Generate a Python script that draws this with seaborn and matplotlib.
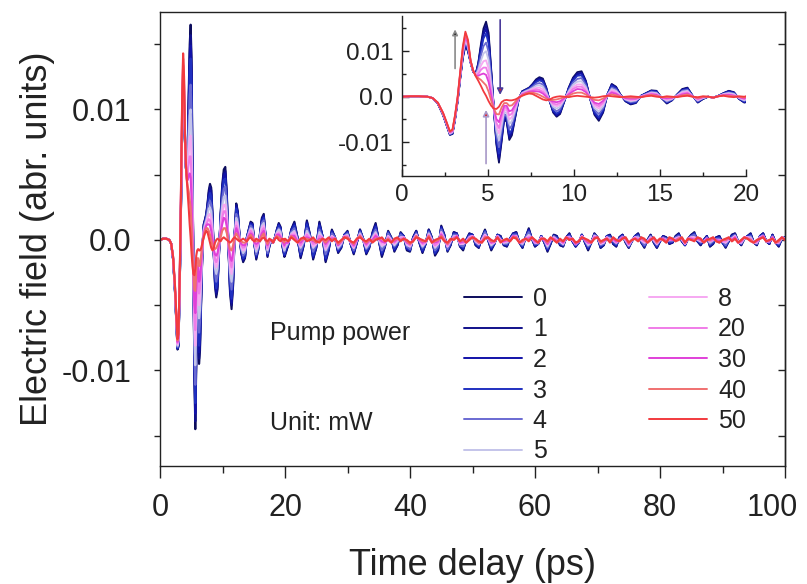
import numpy as np
import pandas as pd
import matplotlib
matplotlib.use("Agg")
import matplotlib.pyplot as plt
from matplotlib.lines import Line2D
from matplotlib.transforms import ScaledTranslation
from matplotlib.ticker import MultipleLocator, FixedLocator, FixedFormatter, NullFormatter
import seaborn as sns

# ---------------- data (field values in units of 1e-4 abr. units) ----------------
powers = ["0", "1", "2", "3", "4", "5", "8", "20", "30", "40", "50"]
colors = ["#0c0c5c", "#10108a", "#1212a8", "#2030c0", "#6a6ad2", "#c4c4ea",
          "#f6a8f2", "#f07ce8", "#e040d8", "#f07070", "#f23a3e"]
x_ticks = [0, 20, 40, 60, 80, 100]
x_ticklabels = ["0", "20", "40", "60", "80", "100"]

early_time_ps = [0, 0.5, 1.0, 1.5, 1.8, 2.1, 2.4, 2.6, 2.8, 2.95,
                 3.1, 3.25, 3.4, 3.55, 3.7, 3.85, 4.0, 4.15, 4.3, 4.45,
                 4.6, 4.75, 4.9, 5.05, 5.2, 5.35, 5.5, 5.65, 5.8, 5.95,
                 6.1, 6.25, 6.4, 6.6, 6.8, 7.0, 7.2, 7.4, 7.6, 7.8,
                 8.0, 8.2, 8.4, 8.6, 8.8, 9.0, 9.2, 9.45, 9.7, 9.95,
                 10.2, 10.45, 10.7, 10.95, 11.2, 11.45, 11.7, 11.95, 12.2, 12.45,
                 12.7, 13.0, 13.3, 13.6, 13.9, 14.2, 14.5, 14.8, 15.1, 15.4,
                 15.7, 16.0, 16.3, 16.6, 16.9, 17.2, 17.5, 17.8, 18.1, 18.4,
                 18.7, 19.0, 19.3, 19.6, 19.9]
late_start_ps = 20.0
late_step_ps = 0.5

early_0 = [0, 1, 1, 0, -3, -15, -40, -62, -84, -82,
           -50, -10, 40, 85, 112, 100, 75, 55, 50, 75,
           115, 150, 165, 140, 60, -25, -105, -145, -100, -50,
           -55, -95, -85, -45, -5, 12, 16, 20, 28, 38,
           43, 40, 20, -10, -35, -44, -38, -10, 20, 42,
           54, 56, 35, -5, -40, -53, -35, 5, 28, 22,
           5, -10, -17, -14, 2, 8, 14, 13, -3, -15,
           -8, 5, 17, 20, 2, -13, -5, 0, -2, 2,
           8, 13, 10, -5, -13]
late_0 = [-12, -4, 8, 14, 2, -14, -4, 15, 4, -15,
          -6, 14, 3, -17, -8, 8, 2, -10, -6, 4,
          7, -3, -11, -2, 8, 1, -11, -6, 6, 13,
          0, -13, -5, 7, 2, -9, -4, 6, 3, -8,
          -9, 2, 7, -2, -10, -3, 8, 2, -12, -8,
          11, 4, -9, -4, 6, 5, -5, -8, 0, 5,
          4, -4, -6, 2, 8, 0, -8, -3, 4, 3,
          -4, -5, 1, 5, 6, -2, -6, 2, 9, 1,
          -5, -3, 3, -2, -9, -3, 4, 3, -4, -5,
          2, 5, -1, -5, -2, 4, -2, -8, -2, 5,
          2, -6, -4, 3, 4, -3, -5, 2, 4, -2,
          -6, -1, 3, 5, -2, -6, 0, 4, -2, -6,
          -1, 3, 2, -3, -2, 3, 5, -1, -4, 1,
          4, 6, -1, -4, 0, 3, -5, -3, 2, 3,
          -2, -6, -1, 4, 5, -1, -4, 1, 3, 5,
          -2, -4, 3, 5, -1, -3, 4, -2, -5, 1,
          2]

early_1 = [0, 1, 1, 0, -3, -15, -40, -61, -83, -81,
           -49, -10, 41, 86, 114, 101, 75, 55, 50, 73,
           110, 143, 157, 132, 56, -25, -101, -139, -96, -48,
           -53, -91, -81, -43, -5, 12, 15, 19, 27, 36,
           41, 38, 19, -10, -33, -42, -36, -10, 19, 40,
           51, 53, 33, -5, -38, -50, -33, 5, 27, 21,
           5, -10, -16, -13, 2, 8, 13, 12, -3, -14,
           -8, 5, 16, 19, 2, -12, -5, 0, -2, 2,
           8, 12, 9, -5, -12]
late_1 = [-11, -4, 8, 13, 2, -13, -4, 14, 4, -14,
          -6, 13, 3, -16, -7, 7, 2, -9, -6, 4,
          6, -3, -10, -2, 8, 1, -10, -5, 5, 12,
          0, -12, -5, 6, 2, -8, -4, 5, 3, -7,
          -8, 2, 7, -2, -9, -3, 8, 2, -11, -7,
          10, 4, -8, -4, 6, 5, -5, -7, 0, 5,
          4, -4, -6, 2, 7, 0, -7, -3, 4, 3,
          -4, -5, 1, 5, 6, -2, -6, 2, 8, 1,
          -5, -3, 3, -2, -8, -3, 4, 3, -4, -5,
          2, 5, -1, -5, -2, 4, -2, -7, -2, 5,
          2, -6, -4, 3, 4, -3, -5, 2, 4, -2,
          -6, -1, 3, 5, -2, -5, 0, 4, -2, -6,
          -1, 3, 2, -3, -2, 3, 5, -1, -4, 1,
          4, 5, -1, -4, 0, 3, -5, -3, 2, 3,
          -2, -5, -1, 4, 5, -1, -4, 1, 3, 5,
          -2, -4, 3, 5, -1, -3, 4, -2, -5, 1,
          2]

early_2 = [0, 1, 1, 0, -3, -15, -39, -61, -83, -81,
           -49, -9, 42, 88, 115, 103, 76, 55, 50, 71,
           106, 136, 149, 125, 52, -25, -97, -133, -91, -46,
           -50, -86, -77, -41, -5, 11, 15, 19, 26, 34,
           38, 35, 17, -10, -32, -40, -34, -9, 18, 38,
           49, 51, 32, -5, -36, -48, -31, 5, 25, 20,
           4, -9, -15, -13, 2, 7, 13, 12, -3, -13,
           -7, 4, 15, 18, 2, -12, -4, 0, -2, 2,
           7, 12, 9, -4, -12]
late_2 = [-10, -4, 7, 12, 1, -12, -3, 13, 3, -13,
          -5, 12, 3, -15, -7, 7, 2, -9, -5, 4,
          6, -3, -10, -2, 7, 1, -10, -5, 5, 11,
          0, -11, -4, 6, 1, -8, -3, 5, 3, -7,
          -8, 2, 6, -2, -9, -3, 7, 1, -10, -7,
          10, 3, -8, -3, 5, 5, -4, -7, 0, 4,
          4, -3, -5, 1, 7, 0, -7, -3, 4, 2,
          -3, -4, 1, 5, 5, -2, -5, 2, 8, 1,
          -4, -3, 3, -2, -8, -2, 3, 2, -3, -4,
          2, 4, -1, -5, -2, 4, -2, -7, -2, 4,
          2, -5, -3, 3, 3, -2, -4, 2, 4, -1,
          -5, -1, 3, 4, -1, -5, 0, 3, -1, -5,
          -1, 3, 1, -2, -2, 2, 4, -1, -4, 1,
          3, 5, -1, -3, 0, 3, -4, -2, 2, 2,
          -2, -5, -1, 3, 4, -1, -3, 1, 3, 4,
          -2, -3, 3, 5, -1, -3, 4, -2, -4, 1,
          2]

early_3 = [0, 1, 1, 0, -3, -15, -39, -61, -83, -80,
           -48, -8, 42, 89, 117, 104, 76, 55, 49, 69,
           100, 128, 139, 116, 47, -25, -93, -125, -86, -43,
           -47, -81, -73, -39, -5, 10, 14, 18, 24, 32,
           36, 33, 16, -9, -30, -37, -32, -8, 17, 35,
           46, 47, 29, -4, -34, -45, -29, 5, 24, 18,
           4, -8, -14, -12, 2, 7, 12, 11, -3, -12,
           -7, 4, 14, 17, 2, -11, -4, 0, -2, 2,
           7, 11, 8, -4, -11]
late_3 = [-9, -3, 7, 11, 1, -11, -3, 12, 3, -12,
          -5, 11, 3, -14, -6, 6, 2, -8, -5, 4,
          6, -3, -9, -1, 7, 1, -9, -5, 4, 10,
          0, -10, -4, 6, 1, -7, -3, 5, 3, -6,
          -8, 1, 6, -1, -8, -3, 7, 1, -10, -6,
          9, 3, -8, -3, 5, 4, -4, -6, 0, 4,
          4, -3, -5, 1, 7, 0, -6, -3, 4, 2,
          -3, -4, 1, 4, 5, -2, -5, 2, 7, 1,
          -4, -3, 3, -1, -7, -2, 3, 2, -3, -4,
          2, 4, -1, -4, -2, 4, -1, -6, -2, 4,
          2, -5, -3, 3, 3, -2, -4, 1, 3, -1,
          -5, -1, 3, 4, -1, -5, 0, 3, -1, -5,
          -1, 2, 1, -2, -1, 2, 4, 0, -4, 1,
          3, 5, 0, -3, 0, 2, -4, -2, 1, 2,
          -2, -5, 0, 3, 4, -1, -3, 1, 3, 4,
          -2, -3, 3, 4, -1, -2, 3, -2, -4, 1,
          2]

early_4 = [0, 1, 1, 0, -3, -14, -39, -60, -82, -79,
           -47, -7, 44, 92, 121, 107, 76, 56, 49, 64,
           90, 111, 119, 98, 38, -25, -83, -111, -75, -38,
           -42, -71, -63, -34, -4, 9, 13, 16, 22, 28,
           30, 27, 12, -9, -26, -32, -27, -7, 14, 31,
           39, 41, 25, -4, -29, -38, -25, 4, 20, 16,
           3, -7, -12, -10, 1, 6, 11, 9, -2, -11,
           -6, 3, 13, 15, 1, -10, -3, 0, -2, 2,
           6, 9, 7, -3, -9]
late_4 = [-7, -3, 6, 9, 1, -9, -2, 9, 3, -9,
          -4, 8, 2, -11, -4, 5, 2, -7, -4, 3,
          5, -2, -8, -1, 6, 1, -7, -4, 3, 8,
          0, -8, -4, 5, 1, -5, -2, 4, 2, -5,
          -7, 1, 5, -1, -6, -2, 6, 1, -8, -5,
          8, 2, -7, -2, 4, 4, -4, -5, -1, 3,
          3, -2, -4, 1, 6, 1, -5, -2, 3, 1,
          -3, -3, 0, 4, 4, -2, -4, 2, 6, 1,
          -3, -3, 2, -1, -6, -1, 3, 1, -2, -4,
          2, 3, 0, -4, -2, 3, -1, -5, -2, 4,
          2, -4, -3, 2, 2, -1, -3, 1, 3, -1,
          -5, -1, 2, 3, -1, -4, -1, 3, -1, -4,
          0, 2, 1, -1, -1, 2, 3, 0, -3, 1,
          3, 4, 0, -2, -1, 2, -3, -1, 1, 1,
          -1, -4, 0, 2, 4, -1, -3, 1, 2, 3,
          -2, -3, 2, 4, -1, -2, 3, -2, -3, 1,
          1]

early_5 = [0, 1, 1, 0, -3, -14, -38, -59, -81, -78,
           -46, -6, 46, 95, 124, 110, 77, 56, 48, 59,
           79, 95, 100, 80, 28, -25, -74, -96, -65, -33,
           -36, -60, -54, -29, -4, 8, 12, 15, 19, 24,
           25, 22, 9, -8, -22, -26, -22, -6, 12, 26,
           33, 34, 21, -3, -25, -32, -21, 4, 17, 13,
           3, -6, -10, -8, 1, 5, 9, 8, -2, -9,
           -5, 3, 11, 13, 1, -8, -3, 0, -2, 1,
           6, 8, 6, -3, -8]
late_5 = [-6, -2, 5, 7, 0, -6, -1, 7, 2, -6,
          -3, 6, 2, -8, -3, 3, 1, -6, -3, 3,
          4, -2, -6, 0, 5, 0, -6, -2, 2, 6,
          0, -5, -3, 3, 0, -4, -1, 2, 2, -4,
          -5, 0, 4, 0, -5, -2, 5, 0, -6, -3,
          6, 1, -5, -1, 3, 3, -3, -3, -1, 2,
          3, -1, -3, 0, 4, 1, -4, -2, 3, 0,
          -2, -2, 0, 3, 3, -2, -3, 1, 4, 1,
          -2, -2, 2, 0, -5, 0, 2, 0, -1, -3,
          2, 2, 0, -3, -1, 3, 0, -4, -2, 3,
          2, -3, -2, 2, 1, 0, -2, 0, 2, 0,
          -4, 0, 2, 2, 0, -2, -1, 2, 0, -3,
          0, 1, 0, 0, 0, 1, 2, 0, -3, 1,
          2, 2, 0, -1, -1, 1, -2, 0, 0, 0,
          -1, -2, 0, 1, 3, -1, -2, 1, 2, 2,
          -2, -2, 2, 3, -1, -1, 2, -2, -2, 1,
          1]

early_8 = [0, 1, 1, 0, -3, -14, -37, -58, -80, -77,
           -45, -5, 48, 98, 128, 113, 78, 57, 47, 54,
           68, 78, 80, 62, 18, -26, -64, -81, -54, -28,
           -30, -50, -45, -25, -3, 7, 10, 13, 17, 19,
           20, 16, 5, -8, -18, -21, -18, -5, 9, 21,
           27, 27, 17, -3, -20, -26, -16, 3, 14, 11,
           2, -5, -8, -7, 0, 4, 8, 6, -2, -7,
           -4, 2, 9, 11, 1, -7, -2, 0, -2, 1,
           5, 6, 4, -2, -6]
late_8 = [-4, -2, 4, 6, 0, -5, 0, 5, 2, -5,
          -3, 4, 2, -7, -2, 3, 1, -5, -2, 3,
          3, -2, -6, 0, 4, 0, -5, -2, 1, 5,
          1, -4, -3, 3, 0, -3, 0, 2, 2, -3,
          -5, 0, 4, 0, -4, -2, 4, 0, -5, -3,
          6, 1, -5, -1, 2, 3, -3, -3, -1, 2,
          3, -1, -3, 0, 4, 1, -3, -2, 3, 0,
          -2, -1, 0, 3, 3, -2, -2, 1, 3, 2,
          -2, -2, 2, 0, -4, 0, 2, 0, -1, -3,
          2, 2, 0, -3, -1, 3, 0, -3, -2, 3,
          2, -3, -2, 2, 0, 0, -2, 0, 2, 0,
          -4, 0, 2, 1, 0, -2, -1, 2, 0, -3,
          0, 1, 0, 0, 0, 1, 2, 1, -3, 1,
          2, 2, 1, -1, -1, 1, -1, 0, 0, 0,
          -1, -2, 1, 1, 3, -2, -2, 2, 2, 1,
          -2, -2, 2, 3, -1, -1, 2, -2, -2, 2,
          1]

early_20 = [0, 1, 1, 0, -3, -14, -37, -58, -79, -76,
            -44, -4, 49, 100, 131, 115, 78, 57, 47, 50,
            59, 64, 64, 47, 10, -26, -57, -69, -45, -24,
            -25, -41, -37, -21, -3, 6, 9, 12, 14, 16,
            15, 11, 3, -8, -15, -17, -14, -4, 7, 17,
            22, 22, 13, -3, -16, -21, -13, 3, 11, 8,
            1, -4, -6, -5, 0, 4, 7, 5, -2, -5,
            -3, 1, 7, 9, 1, -6, -1, 0, -2, 1,
            4, 5, 3, -1, -5]
late_20 = [-3, -2, 4, 4, -1, -4, 0, 4, 1, -3,
           -2, 3, 2, -5, -1, 2, 1, -4, -2, 3,
           3, -2, -5, 0, 4, 0, -4, -1, 0, 4,
           1, -2, -2, 2, -1, -2, 0, 1, 2, -2,
           -4, 0, 3, 0, -3, -2, 4, -1, -4, -2,
           5, 0, -4, 0, 2, 3, -2, -2, -1, 2,
           3, 0, -2, -1, 3, 1, -2, -2, 3, 0,
           -1, -1, 0, 3, 3, -2, -2, 1, 2, 2,
           -2, -2, 2, 0, -3, 0, 1, 0, 0, -2,
           2, 2, 0, -3, -1, 3, 0, -2, -2, 2,
           2, -2, -1, 2, 0, 0, -2, 0, 2, 1,
           -3, 0, 2, 1, 1, -1, -1, 1, 1, -2,
           0, 1, -1, 0, 0, 0, 2, 1, -3, 1,
           1, 1, 1, 0, -1, 1, -1, 0, 0, 0,
           -1, -1, 1, 0, 2, -2, -1, 2, 2, 1,
           -2, -1, 2, 3, -1, -1, 2, -2, -2, 2,
           1]

early_30 = [0, 1, 1, 0, -3, -14, -36, -57, -78, -75,
            -43, -3, 51, 103, 134, 118, 79, 57, 46, 46,
            49, 51, 48, 32, 2, -26, -49, -56, -37, -20,
            -20, -32, -30, -17, -3, 5, 8, 11, 12, 12,
            11, 7, 0, -7, -11, -12, -10, -3, 5, 12,
            17, 16, 10, -2, -13, -16, -9, 3, 9, 6,
            1, -3, -4, -4, 0, 3, 5, 4, -2, -3,
            -2, 1, 5, 7, 1, -4, -1, 0, -2, 1,
            4, 4, 2, -1, -4]
late_30 = [-2, -2, 3, 3, -1, -2, 1, 2, 1, -1,
           -2, 1, 1, -3, 0, 1, 1, -4, -1, 2,
           2, -1, -4, 0, 3, 0, -3, 0, 0, 3,
           1, -1, -2, 1, -1, -1, 1, 0, 1, -2,
           -3, 0, 3, 0, -2, -1, 3, -1, -2, -1,
           4, 0, -3, 0, 1, 3, -2, -1, -2, 1,
           2, 0, -2, -1, 2, 2, -2, -1, 2, -1,
           -1, 0, -1, 3, 2, -2, -1, 1, 1, 2,
           -1, -2, 1, 0, -3, 1, 1, -1, 0, -2,
           2, 1, 1, -3, -1, 2, 0, -2, -2, 2,
           2, -2, -1, 1, -1, 1, -1, 0, 2, 1,
           -3, 0, 1, 0, 1, 0, -2, 1, 1, -2,
           1, 1, -1, 1, 0, 0, 1, 1, -2, 1,
           1, 0, 1, 0, -2, 1, 0, 1, 0, -1,
           0, 0, 1, 0, 2, -2, -1, 2, 1, 0,
           -2, -1, 1, 3, -1, -1, 2, -2, -1, 2,
           0]

early_40 = [0, 1, 1, 0, -3, -13, -36, -56, -77, -73,
            -41, -1, 53, 107, 139, 122, 79, 58, 46, 41,
            37, 31, 25, 11, -9, -26, -38, -39, -24, -14,
            -14, -20, -19, -11, -2, 3, 7, 9, 9, 7,
            4, 0, -4, -7, -7, -6, -4, -1, 2, 7,
            9, 9, 5, -2, -7, -8, -4, 2, 5, 3,
            0, -1, -2, -2, -1, 2, 4, 2, -1, -1,
            -1, 0, 3, 5, 0, -3, 0, 0, -2, 1,
            3, 2, 1, 0, -2]
late_40 = [0, -1, 3, 1, -2, 0, 1, 1, 0, 0,
           -2, 0, 1, -2, 1, 0, 1, -3, -1, 2,
           2, -1, -3, 1, 3, 0, -2, 0, -1, 1,
           1, 1, -1, 1, -2, 0, 1, 0, 1, -1,
           -3, -1, 3, 1, -1, -1, 3, -2, -1, 0,
           3, 0, -3, 0, 1, 2, -1, 0, -2, 1,
           2, 0, -2, -2, 2, 2, -1, -1, 2, -1,
           0, 0, -1, 2, 2, -2, -1, 1, 0, 2,
           0, -2, 1, 1, -2, 2, 0, -2, 0, -1,
           2, 0, 1, -2, -1, 2, 1, -1, -2, 1,
           2, -2, 0, 1, -1, 2, 0, -1, 1, 2,
           -2, 0, 1, -1, 2, 0, -2, 0, 2, -2,
           1, 0, -2, 2, 1, -1, 1, 2, -2, 1,
           0, 0, 2, 1, -2, 0, 0, 2, -1, -2,
           0, 0, 2, -1, 1, -2, 0, 2, 1, 0,
           -2, 0, 1, 2, -1, 0, 1, -2, -1, 2,
           0]

early_50 = [0, 1, 1, 0, -3, -13, -35, -55, -76, -72,
            -40, 0, 55, 110, 143, 125, 80, 58, 45, 35,
            24, 12, 2, -10, -20, -26, -27, -22, -12, -8,
            -7, -8, -8, -6, -2, 2, 5, 7, 6, 2,
            -2, -6, -8, -6, -2, 0, 1, 0, -1, 1,
            2, 1, 0, -1, -2, -1, 1, 2, 1, 0,
            -1, 0, 1, 0, -1, 1, 2, 0, -1, 1,
            0, -1, 1, 2, 0, -1, 1, 0, -2, 1,
            2, 0, -1, 1, 0]
late_50 = [1, -1, 2, 0, -2, 1, 2, -1, 0, 2,
           -1, -2, 1, 0, 2, -1, 1, -2, 0, 2,
           1, -1, -2, 1, 2, 0, -1, 1, -2, 0,
           1, 2, -1, 0, -2, 1, 2, -1, 1, 0,
           -2, -1, 2, 1, 0, -1, 2, -2, 0, 1,
           2, -1, -2, 1, 0, 2, -1, 1, -2, 0,
           2, 1, -1, -2, 1, 2, 0, -1, 2, -2,
           0, 1, -1, 2, 1, -2, 0, 1, -1, 2,
           0, -2, 1, 1, -1, 2, 0, -2, 1, -1,
           2, 0, 1, -2, -1, 2, 1, 0, -2, 1,
           2, -1, 0, 1, -2, 2, 0, -1, 1, 2,
           -2, 0, 1, -1, 2, 1, -2, 0, 2, -1,
           1, 0, -2, 2, 1, -1, 0, 2, -2, 1,
           0, -1, 2, 1, -2, 0, 1, 2, -1, -2,
           0, 1, 2, -1, 1, -2, 0, 2, 1, -1,
           -2, 0, 1, 2, -1, 0, 1, -2, 0, 2,
           0]

series = {
    "0": (early_0, late_0), "1": (early_1, late_1), "2": (early_2, late_2),
    "3": (early_3, late_3), "4": (early_4, late_4), "5": (early_5, late_5),
    "8": (early_8, late_8), "20": (early_20, late_20), "30": (early_30, late_30),
    "40": (early_40, late_40), "50": (early_50, late_50),
}
UNIT = 1e-4  # stored values are in units of 1e-4

frames = []
for p in powers:
    e, l = series[p]
    n = min(len(e), len(early_time_ps))
    t = list(early_time_ps[:n]) + [late_start_ps + late_step_ps * i for i in range(len(l))]
    v = (np.array(list(e[:n]) + list(l)) * UNIT)
    frames.append(pd.DataFrame({"time": t, "field": v, "power": p}))
df = pd.concat(frames, ignore_index=True)
palette = dict(zip(powers, colors))

# ---------------- style ----------------
sns.set_theme(style="ticks")
plt.rcParams["font.family"] = ["Liberation Sans", "DejaVu Sans"]
plt.rcParams["axes.edgecolor"] = "#222222"
plt.rcParams["axes.linewidth"] = 1.0
plt.rcParams["xtick.color"] = "#222222"
plt.rcParams["ytick.color"] = "#222222"
plt.rcParams["text.color"] = "#222222"
plt.rcParams["axes.labelcolor"] = "#222222"

W, H = 807, 584
fig = plt.figure(figsize=(W / 100, H / 100), dpi=100)
fig.patch.set_facecolor("white")

ax = fig.add_axes([160 / W, 1 - 466 / H, 625 / W, 454 / H])
sns.lineplot(data=df, x="time", y="field", hue="power", hue_order=powers,
             palette=palette, estimator=None, sort=False, lw=1.5,
             legend=False, ax=ax)
ax.set_xlim(0, 100)
ax.set_ylim(-0.01732, 0.01747)
ax.set_xticks(x_ticks)
xl = ax.set_xticklabels(x_ticklabels)
ax.xaxis.set_minor_locator(MultipleLocator(10))
ax.yaxis.set_major_locator(FixedLocator([-0.01, 0.0, 0.01]))
ax.yaxis.set_major_formatter(FixedFormatter(["-0.01", "0.0", "0.01"]))
ax.yaxis.set_minor_locator(FixedLocator([-0.015, -0.005, 0.005, 0.015]))
ax.tick_params(axis="x", which="major", direction="out", length=8.5, width=1,
               labelsize=22, pad=11)
ax.tick_params(axis="x", which="minor", direction="out", length=5, width=1)
ax.tick_params(axis="y", which="both", direction="out", length=4.5, width=1,
               labelsize=22, pad=16)
# last x tick label sits slightly left of its tick, as in the reference
xl[-1].set_horizontalalignment("right")
xl[-1].set_transform(xl[-1].get_transform() + ScaledTranslation(0.13, 0, fig.dpi_scale_trans))
ax.set_xlabel("Time delay (ps)", fontsize=26, labelpad=18)
ax.set_ylabel("Electric field (abr. units)", fontsize=26, labelpad=5)
for s in ax.spines.values():
    s.set_linewidth(1.0)

sec = ax.secondary_yaxis("right")
sec.yaxis.set_major_locator(FixedLocator([-0.015, -0.01, -0.005, 0, 0.005, 0.01, 0.015]))
sec.yaxis.set_major_formatter(NullFormatter())
sec.tick_params(direction="in", length=5, width=1)

# legend
handles = [Line2D([], [], color=c, lw=1.4) for c in colors]
fig.legend(handles, powers, loc="upper left", bbox_to_anchor=(464 / W, 1 - 287 / H),
           ncol=2, frameon=False, fontsize=18, handlelength=2.3,
           handletextpad=0.45, columnspacing=4.1, labelspacing=0.26,
           borderpad=0, borderaxespad=0)
fig.text(270 / W, 1 - 333 / H, "Pump power", fontsize=18, va="center", ha="left")
fig.text(270 / W, 1 - 423 / H, "Unit: mW", fontsize=18, va="center", ha="left")

# ---------------- inset ----------------
axi = fig.add_axes([401.7 / W, 1 - 175.7 / H, 344.3 / W, 159.7 / H])
axi.set_facecolor("none")
sns.lineplot(data=df[df["time"] <= 20.5], x="time", y="field", hue="power",
             hue_order=powers, palette=palette, estimator=None, sort=False,
             lw=1.3, legend=False, ax=axi)
axi.set_xlim(0, 20)
axi.set_ylim(-0.01736, 0.01774)
axi.xaxis.set_major_locator(MultipleLocator(5))
axi.xaxis.set_minor_locator(MultipleLocator(2.5))
axi.yaxis.set_major_locator(FixedLocator([-0.01, 0.0, 0.01]))
axi.yaxis.set_major_formatter(FixedFormatter(["-0.01", "0.0", "0.01"]))
axi.yaxis.set_minor_locator(FixedLocator([-0.015, -0.005, 0.005, 0.015]))
axi.tick_params(which="major", direction="in", length=5, width=1, labelsize=17.5, pad=6)
axi.tick_params(which="minor", direction="in", length=3, width=1)
axi.set_xlabel("")
axi.set_ylabel("")
axi.spines["top"].set_visible(False)
axi.spines["right"].set_visible(False)

# arrows (data coordinates of the inset)
arrow_grey = ((3.1, 0.0062), (3.1, 0.0148))
arrow_down = ((5.72, 0.0169), (5.72, 0.0004))
arrow_up = ((4.9, -0.0147), (4.9, -0.0029))
axi.annotate("", xy=arrow_grey[1], xytext=arrow_grey[0],
             arrowprops=dict(arrowstyle="-|>", edgecolor="#8a8a8a", facecolor="black",
                             lw=1.2, mutation_scale=8, shrinkA=0, shrinkB=0))
axi.annotate("", xy=arrow_down[1], xytext=arrow_down[0],
             arrowprops=dict(arrowstyle="-|>", edgecolor="#4a3a9a", facecolor="#e01c28",
                             lw=1.2, mutation_scale=9, shrinkA=0, shrinkB=0))
axi.annotate("", xy=arrow_up[1], xytext=arrow_up[0],
             arrowprops=dict(arrowstyle="-|>", edgecolor="#a898c8", facecolor="#e01c28",
                             lw=1.2, mutation_scale=9, shrinkA=0, shrinkB=0))

fig.savefig("out.png", dpi=100, facecolor="white")
